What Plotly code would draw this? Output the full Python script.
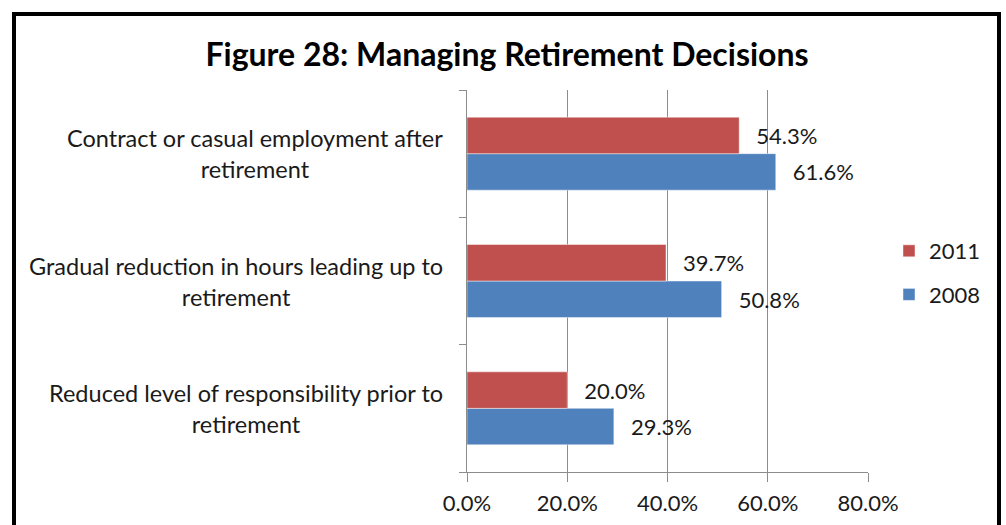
import plotly.graph_objects as go

categories = [
    "Contract or casual employment after<br>retirement",
    "Gradual reduction in hours leading up to<br>retirement",
    "Reduced level of responsibility prior to<br>retirement",
]
values_2011 = [54.3, 39.7, 20.0]
values_2008 = [61.6, 50.8, 29.3]
x_ticks = [0, 20, 40, 60, 80]
title_text = "Figure 28: Managing Retirement Decisions"

FONT = "Lato"
RED = "#C0504D"
BLUE = "#4F81BD"
GRID = "#8C8C8C"
TXT = "#1a1a1a"

W, H = 1006, 525
L, R, T, B = 467, 138, 90, 53

fig = go.Figure()
NB = "\u00a0\u00a0\u2009"
fig.add_trace(go.Bar(
    name="2008", y=categories, x=values_2008, orientation="h",
    marker=dict(color=BLUE, line=dict(color="rgba(255,255,255,0.45)", width=1)),
    texttemplate=NB + "%{x:.1f}%", textposition="outside", cliponaxis=False,
    textfont=dict(family=FONT, size=22, color=TXT),
    legendrank=2, legendgroup="g2008",
))
fig.add_trace(go.Bar(
    name="2011", y=categories, x=values_2011, orientation="h",
    marker=dict(color=RED, line=dict(color="rgba(255,255,255,0.45)", width=1)),
    texttemplate=NB + "%{x:.1f}%", textposition="outside", cliponaxis=False,
    textfont=dict(family=FONT, size=22, color=TXT),
    legendrank=1, legendgroup="g2011",
))

annotations = []
for c in categories:
    annotations.append(dict(
        xref="paper", x=0, xanchor="right", xshift=-22,
        yref="y", y=c, yanchor="middle",
        text=c, showarrow=False, align="center",
        font=dict(family=FONT, size=23.5, color=TXT),
    ))

px = lambda p: (p - L) / (W - L - R)
py = lambda p: (H - B - p) / (H - T - B)

fig.update_layout(
    width=W, height=H,
    margin=dict(l=L, r=R, t=T, b=B, autoexpand=False),
    paper_bgcolor="white", plot_bgcolor="white",
    barmode="group", bargap=0.427, bargroupgap=0,
    title=dict(text="<b>" + title_text + "</b>", x=0.504, xref="container",
               y=1 - 55 / H, yref="container", xanchor="center", yanchor="middle",
               font=dict(family=FONT, size=32, color="#000000")),
    xaxis=dict(range=[0, 80], tickvals=x_ticks,
               ticktext=[f"{v:.1f}%" for v in x_ticks],
               showgrid=True, gridcolor=GRID, gridwidth=1,
               showline=True, linecolor=GRID, linewidth=1,
               ticks="outside", ticklen=9, tickcolor=GRID,
               ticklabelstandoff=3, zeroline=False,
               tickfont=dict(family=FONT, size=22, color=TXT)),
    yaxis=dict(categoryorder="array", categoryarray=categories[::-1],
               showticklabels=False, showgrid=False, zeroline=False,
               showline=True, linecolor=GRID, linewidth=1,
               ticks="outside", ticklen=7, tickcolor=GRID, tickson="boundaries"),
    legend=dict(x=px(889), xanchor="left", y=py(273), yanchor="middle",
                traceorder="grouped", tracegroupgap=12,
                font=dict(family=FONT, size=22, color=TXT),
                bgcolor="rgba(0,0,0,0)"),
    annotations=annotations,
    shapes=[dict(type="rect", xref="paper", yref="paper",
                 x0=px(14), x1=px(999), y0=py(545), y1=py(14),
                 line=dict(color="black", width=4), fillcolor="rgba(0,0,0,0)",
                 layer="above")],
    showlegend=True,
)

fig.write_html("out.html", config={"displayModeBar": False},
               post_script="document.body.style.margin='0';")
